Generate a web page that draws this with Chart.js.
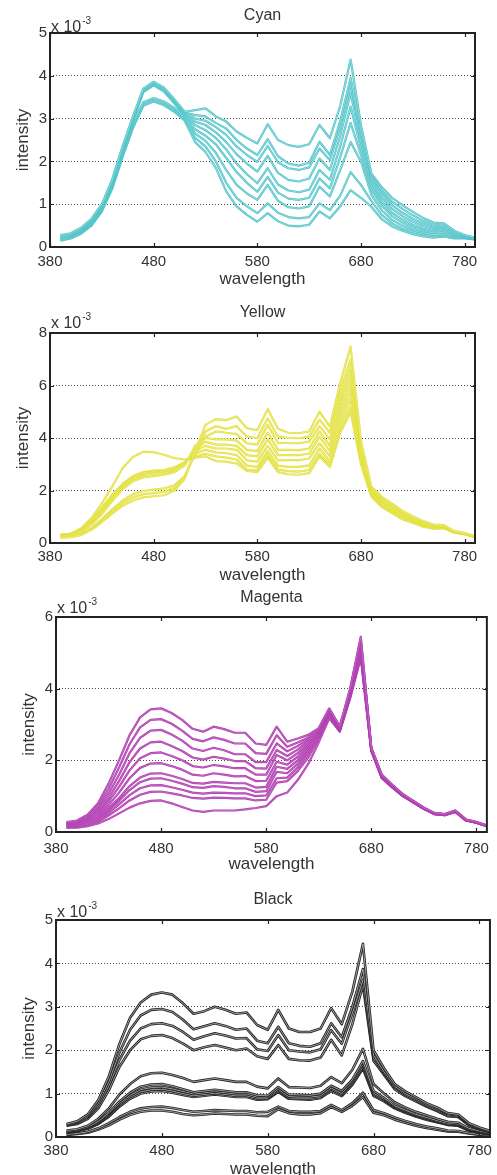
<!DOCTYPE html>
<html>
<head>
<meta charset="utf-8">
<title>Spectra</title>
<script src="https://cdn.jsdelivr.net/npm/chart.js@4.4.0/dist/chart.umd.min.js"></script>
<style>
  html, body { margin: 0; padding: 0; background: #fff; }
  .panel { position: absolute; left: 0; width: 497px; }
</style>
</head>
<body>
<div class="panel" style="top:0;height:290px"><canvas id="cyanChart"></canvas></div>
<div class="panel" style="top:290px;height:295px"><canvas id="yellowChart"></canvas></div>
<div class="panel" style="top:585px;height:300px"><canvas id="magentaChart"></canvas></div>
<div class="panel" style="top:885px;height:290px"><canvas id="blackChart"></canvas></div>
<script>
// sampled wavelengths (nm), one value per curve at each of them
const wavelengths = [390, 400, 410, 420, 430, 440, 450, 460, 470, 480,
                     490, 500, 510, 520, 530, 540, 550, 560, 570, 580,
                     590, 600, 610, 620, 630, 640, 650, 660, 670, 680,
                     690, 700, 710, 720, 730, 740, 750, 760, 770, 780, 790];
const xTicks = [380, 480, 580, 680, 780];
const cyanTicks = [0, 1, 2, 3, 4, 5];
const yellowTicks = [0, 2, 4, 6, 8];
const magentaTicks = [0, 2, 4, 6];
const blackTicks = [0, 1, 2, 3, 4, 5];

// intensities in units of 1e-3
const cyanCurves = [
  [0.28,0.32,0.45,0.66,1.00,1.58,2.35,3.05,3.70,3.86, 3.72,3.45,3.16,3.20,3.24,3.05,2.93,2.70,2.55,2.42, 2.87,2.50,2.38,2.34,2.40,2.85,2.54,3.30,4.38,2.85, 1.72,1.40,1.15,0.98,0.82,0.68,0.57,0.55,0.38,0.28,0.22],
  [0.26,0.30,0.43,0.64,0.98,1.55,2.32,3.02,3.68,3.84, 3.70,3.43,3.14,3.08,3.05,2.90,2.77,2.50,2.30,2.15, 2.52,2.12,1.95,1.90,1.97,2.46,2.15,2.95,3.95,2.70, 1.65,1.32,1.06,0.89,0.74,0.61,0.52,0.50,0.35,0.27,0.21],
  [0.24,0.28,0.41,0.62,0.96,1.53,2.30,3.00,3.66,3.82, 3.68,3.41,3.12,3.00,2.95,2.80,2.62,2.35,2.15,1.99, 2.36,1.98,1.84,1.80,1.86,2.30,2.03,2.80,3.80,2.60, 1.58,1.24,0.98,0.80,0.66,0.55,0.47,0.46,0.32,0.26,0.21],
  [0.22,0.27,0.39,0.60,0.94,1.50,2.27,2.97,3.64,3.80, 3.66,3.38,3.10,2.93,2.85,2.68,2.45,2.17,1.95,1.76, 2.13,1.73,1.57,1.53,1.60,2.07,1.80,2.60,3.60,2.45, 1.50,1.15,0.89,0.72,0.59,0.49,0.42,0.42,0.30,0.25,0.20],
  [0.21,0.26,0.38,0.58,0.92,1.48,2.24,2.94,3.62,3.78, 3.63,3.35,3.07,2.85,2.73,2.55,2.28,1.95,1.70,1.49, 1.84,1.46,1.32,1.28,1.34,1.80,1.57,2.35,3.28,2.30, 1.42,1.06,0.80,0.64,0.52,0.43,0.37,0.38,0.28,0.24,0.20],
  [0.20,0.25,0.37,0.56,0.90,1.45,2.20,2.90,3.38,3.48, 3.40,3.25,3.04,2.75,2.60,2.40,2.08,1.75,1.50,1.29, 1.64,1.27,1.13,1.10,1.15,1.60,1.37,2.10,2.90,2.15, 1.33,0.97,0.72,0.57,0.46,0.38,0.33,0.34,0.26,0.23,0.19],
  [0.18,0.23,0.35,0.54,0.88,1.42,2.17,2.86,3.36,3.45, 3.37,3.22,3.01,2.65,2.48,2.20,1.80,1.45,1.25,1.10, 1.45,1.08,0.93,0.90,0.95,1.41,1.18,1.80,2.45,2.00, 1.22,0.86,0.63,0.50,0.40,0.33,0.29,0.30,0.24,0.22,0.19],
  [0.16,0.21,0.33,0.52,0.85,1.39,2.13,2.82,3.33,3.42, 3.34,3.19,2.98,2.55,2.35,2.00,1.50,1.15,0.95,0.79, 1.02,0.80,0.70,0.67,0.70,1.02,0.86,1.20,1.75,1.45, 1.08,0.75,0.55,0.43,0.35,0.29,0.25,0.27,0.22,0.21,0.18],
  [0.15,0.20,0.31,0.50,0.83,1.36,2.10,2.78,3.30,3.40, 3.31,3.16,2.95,2.45,2.22,1.85,1.30,0.95,0.75,0.59, 0.79,0.60,0.50,0.48,0.52,0.83,0.67,0.95,1.33,1.15, 0.94,0.65,0.48,0.38,0.30,0.25,0.22,0.25,0.20,0.20,0.18]
];

const yellowCurves = [
  [0.20,0.22,0.30,0.50,0.80,1.12,1.42,1.62,1.74,1.78, 1.82,2.00,2.45,3.50,4.50,4.72,4.68,4.82,4.37,4.30, 5.10,4.35,4.20,4.18,4.25,5.00,4.43,6.10,7.48,3.90, 2.15,1.77,1.50,1.22,1.02,0.84,0.70,0.68,0.45,0.38,0.25],
  [0.21,0.23,0.32,0.53,0.85,1.20,1.52,1.74,1.86,1.90, 1.95,2.10,2.50,3.45,4.25,4.45,4.35,4.45,4.05,3.99, 4.75,4.05,4.00,3.99,4.05,4.70,4.20,5.80,7.00,3.75, 2.10,1.72,1.45,1.18,0.98,0.81,0.68,0.66,0.44,0.37,0.25],
  [0.22,0.24,0.34,0.56,0.90,1.28,1.62,1.86,1.98,2.03, 2.08,2.20,2.55,3.40,4.05,4.25,4.20,4.15,3.80,3.75, 4.50,3.82,3.80,3.80,3.86,4.45,3.95,5.50,6.70,3.60, 2.05,1.67,1.40,1.14,0.95,0.78,0.66,0.64,0.43,0.37,0.24],
  [0.25,0.28,0.42,0.70,1.10,1.60,2.05,2.35,2.50,2.55, 2.60,2.70,2.95,3.70,4.00,3.95,3.95,3.90,3.55,3.50, 4.20,3.55,3.55,3.54,3.60,4.25,3.70,5.25,6.40,3.50, 2.00,1.62,1.35,1.10,0.92,0.75,0.64,0.63,0.42,0.36,0.24],
  [0.26,0.29,0.44,0.74,1.16,1.66,2.10,2.40,2.58,2.64, 2.66,2.76,3.00,3.60,3.85,3.75,3.75,3.70,3.35,3.30, 3.95,3.35,3.35,3.35,3.40,4.05,3.50,5.00,6.10,3.40, 1.95,1.57,1.30,1.06,0.89,0.72,0.62,0.62,0.42,0.36,0.24],
  [0.27,0.30,0.46,0.78,1.22,1.72,2.15,2.45,2.62,2.68, 2.70,2.80,3.02,3.50,3.70,3.60,3.60,3.55,3.15,3.10, 3.70,3.15,3.16,3.16,3.22,3.80,3.30,4.75,5.80,3.30, 1.90,1.52,1.26,1.02,0.86,0.70,0.60,0.61,0.41,0.35,0.23],
  [0.28,0.31,0.48,0.82,1.28,1.78,2.20,2.50,2.66,2.72, 2.74,2.84,3.05,3.40,3.55,3.45,3.42,3.35,2.95,2.90, 3.50,2.95,2.90,2.90,2.96,3.60,3.10,4.50,5.50,3.20, 1.85,1.47,1.22,0.98,0.83,0.68,0.58,0.60,0.40,0.35,0.23],
  [0.30,0.33,0.50,0.86,1.34,1.84,2.25,2.55,2.70,2.76, 2.78,2.88,3.08,3.30,3.40,3.30,3.25,3.18,2.80,2.78, 3.35,2.80,2.74,2.72,2.78,3.40,2.97,4.30,5.20,3.10, 1.80,1.42,1.18,0.94,0.80,0.65,0.56,0.58,0.40,0.34,0.23],
  [0.32,0.36,0.55,0.95,1.50,2.15,2.85,3.28,3.48,3.46, 3.36,3.23,3.18,3.25,3.30,3.12,3.10,3.03,2.75,2.70, 3.25,2.70,2.62,2.60,2.66,3.30,2.90,4.20,5.00,3.00, 1.77,1.38,1.14,0.90,0.77,0.62,0.55,0.56,0.39,0.34,0.22]
];

const magentaCurves = [
  [0.28,0.32,0.48,0.80,1.35,2.00,2.70,3.20,3.42,3.45, 3.32,3.13,2.88,2.80,2.94,2.87,2.77,2.77,2.47,2.43, 2.94,2.52,2.61,2.71,2.90,3.45,2.95,4.02,5.45,2.36, 1.60,1.32,1.06,0.87,0.68,0.53,0.50,0.60,0.35,0.28,0.18],
  [0.26,0.30,0.44,0.72,1.20,1.80,2.45,2.92,3.13,3.15, 3.02,2.83,2.60,2.53,2.64,2.57,2.47,2.47,2.20,2.18, 2.70,2.38,2.50,2.64,2.87,3.43,2.93,4.00,5.40,2.35, 1.59,1.31,1.05,0.87,0.68,0.53,0.50,0.60,0.35,0.28,0.18],
  [0.25,0.28,0.40,0.65,1.07,1.60,2.20,2.63,2.83,2.85, 2.72,2.55,2.33,2.26,2.35,2.28,2.17,2.17,1.95,1.95, 2.47,2.25,2.40,2.58,2.84,3.41,2.91,3.97,5.34,2.34, 1.58,1.30,1.04,0.86,0.67,0.52,0.49,0.59,0.34,0.28,0.18],
  [0.23,0.26,0.37,0.58,0.95,1.42,1.95,2.33,2.50,2.52, 2.40,2.26,2.08,2.02,2.10,2.05,1.98,1.98,1.78,1.77, 2.29,2.12,2.30,2.52,2.81,3.39,2.90,3.94,5.28,2.33, 1.57,1.29,1.04,0.86,0.67,0.52,0.49,0.59,0.34,0.27,0.17],
  [0.22,0.24,0.34,0.52,0.85,1.26,1.72,2.06,2.20,2.22, 2.12,2.00,1.84,1.80,1.87,1.83,1.78,1.78,1.60,1.60, 2.15,2.00,2.20,2.46,2.78,3.37,2.88,3.91,5.22,2.32, 1.56,1.28,1.03,0.85,0.66,0.52,0.49,0.58,0.34,0.27,0.17],
  [0.20,0.22,0.31,0.46,0.75,1.10,1.50,1.79,1.91,1.92, 1.84,1.74,1.60,1.57,1.64,1.60,1.55,1.56,1.42,1.43, 1.96,1.88,2.10,2.40,2.75,3.35,2.87,3.88,5.16,2.31, 1.55,1.28,1.02,0.85,0.66,0.51,0.48,0.58,0.33,0.27,0.17],
  [0.19,0.20,0.28,0.41,0.66,0.95,1.28,1.52,1.63,1.64, 1.57,1.48,1.37,1.35,1.40,1.38,1.36,1.36,1.24,1.26, 1.82,1.76,2.00,2.33,2.72,3.32,2.85,3.85,5.10,2.30, 1.54,1.27,1.02,0.84,0.66,0.51,0.48,0.58,0.33,0.27,0.17],
  [0.17,0.18,0.25,0.37,0.60,0.87,1.17,1.39,1.49,1.50, 1.43,1.35,1.25,1.23,1.28,1.26,1.22,1.22,1.12,1.14, 1.68,1.64,1.90,2.26,2.68,3.29,2.84,3.82,5.04,2.29, 1.53,1.26,1.01,0.84,0.65,0.51,0.48,0.57,0.33,0.26,0.17],
  [0.15,0.16,0.22,0.33,0.53,0.77,1.03,1.22,1.30,1.31, 1.25,1.18,1.10,1.07,1.10,1.09,1.08,1.08,1.00,1.02, 1.50,1.52,1.80,2.18,2.64,3.26,2.83,3.80,4.98,2.28, 1.52,1.25,1.01,0.83,0.65,0.50,0.47,0.57,0.32,0.26,0.16],
  [0.13,0.14,0.19,0.29,0.46,0.66,0.88,1.04,1.12,1.13, 1.08,1.02,0.95,0.93,0.96,0.95,0.94,0.94,0.88,0.90, 1.38,1.42,1.70,2.08,2.60,3.22,2.81,3.77,4.92,2.27, 1.51,1.25,1.00,0.83,0.65,0.50,0.47,0.56,0.32,0.26,0.16],
  [0.12,0.12,0.16,0.24,0.36,0.52,0.68,0.80,0.87,0.88, 0.80,0.70,0.60,0.56,0.60,0.60,0.60,0.63,0.67,0.72, 1.00,1.10,1.45,1.90,2.50,3.17,2.80,3.74,4.86,2.26, 1.50,1.24,1.00,0.82,0.64,0.50,0.47,0.56,0.32,0.26,0.16]
];

const blackCurves = [
  [0.30,0.36,0.52,0.85,1.40,2.15,2.75,3.10,3.28,3.33, 3.28,3.08,2.84,2.90,3.00,2.93,2.84,2.87,2.58,2.47, 2.93,2.50,2.42,2.42,2.50,2.97,2.60,3.35,4.45,2.00, 1.58,1.22,1.05,0.92,0.78,0.68,0.55,0.52,0.32,0.22,0.14],
  [0.28,0.34,0.48,0.78,1.28,1.95,2.47,2.80,2.93,2.95, 2.88,2.70,2.48,2.55,2.62,2.56,2.47,2.50,2.22,2.16, 2.54,2.16,2.10,2.08,2.16,2.62,2.30,3.00,3.87,1.88, 1.50,1.17,1.00,0.88,0.75,0.65,0.53,0.50,0.30,0.20,0.13],
  [0.27,0.32,0.45,0.72,1.18,1.78,2.22,2.50,2.60,2.62, 2.56,2.42,2.24,2.32,2.39,2.34,2.27,2.28,2.02,1.98, 2.35,2.00,1.97,1.95,2.02,2.46,2.15,2.85,3.62,1.82, 1.47,1.14,0.97,0.85,0.72,0.62,0.50,0.48,0.28,0.19,0.12],
  [0.26,0.30,0.42,0.66,1.08,1.62,2.00,2.25,2.33,2.35, 2.28,2.15,2.00,2.07,2.12,2.06,2.00,2.04,1.86,1.80, 2.12,1.80,1.77,1.76,1.83,2.24,1.88,2.60,3.50,1.76, 1.43,1.10,0.94,0.82,0.70,0.60,0.48,0.46,0.27,0.18,0.11],
  [0.15,0.18,0.26,0.42,0.66,0.98,1.22,1.40,1.47,1.48, 1.43,1.36,1.27,1.31,1.35,1.31,1.27,1.27,1.16,1.12, 1.35,1.15,1.14,1.13,1.18,1.38,1.24,1.55,2.03,1.22, 1.00,0.80,0.68,0.58,0.50,0.42,0.35,0.33,0.20,0.14,0.09],
  [0.13,0.16,0.23,0.36,0.56,0.82,1.02,1.16,1.21,1.22, 1.17,1.10,1.03,1.06,1.09,1.06,1.03,1.03,0.96,0.95, 1.15,0.98,0.97,0.96,1.00,1.18,1.06,1.32,1.75,1.06, 0.90,0.72,0.62,0.52,0.45,0.38,0.32,0.30,0.18,0.13,0.08],
  [0.12,0.15,0.22,0.34,0.53,0.77,0.96,1.09,1.14,1.15, 1.11,1.05,0.99,1.02,1.05,1.02,0.99,0.99,0.92,0.92, 1.10,0.93,0.92,0.92,0.95,1.13,1.00,1.28,1.68,1.01, 0.87,0.70,0.60,0.50,0.43,0.36,0.30,0.28,0.17,0.12,0.07],
  [0.11,0.14,0.21,0.32,0.50,0.74,0.92,1.04,1.09,1.10, 1.06,1.00,0.95,0.98,1.01,0.98,0.95,0.95,0.89,0.89, 1.07,0.90,0.89,0.89,0.92,1.10,0.97,1.24,1.62,0.98, 0.85,0.68,0.58,0.49,0.42,0.35,0.29,0.27,0.16,0.11,0.07],
  [0.10,0.13,0.19,0.30,0.47,0.70,0.88,1.00,1.05,1.06, 1.02,0.97,0.92,0.95,0.98,0.95,0.92,0.92,0.86,0.87, 1.04,0.88,0.87,0.86,0.90,1.06,0.94,1.20,1.58,0.95, 0.82,0.66,0.56,0.47,0.40,0.34,0.28,0.26,0.15,0.10,0.06],
  [0.06,0.08,0.12,0.20,0.32,0.46,0.58,0.66,0.69,0.70, 0.67,0.62,0.58,0.60,0.62,0.61,0.60,0.60,0.57,0.58, 0.70,0.60,0.58,0.58,0.60,0.74,0.62,0.78,1.02,0.62, 0.55,0.45,0.37,0.30,0.24,0.20,0.15,0.14,0.09,0.06,0.04],
  [0.05,0.07,0.10,0.17,0.27,0.40,0.51,0.58,0.61,0.61, 0.58,0.53,0.50,0.52,0.54,0.53,0.52,0.52,0.49,0.48, 0.64,0.55,0.52,0.52,0.55,0.69,0.58,0.72,0.92,0.56, 0.50,0.40,0.33,0.26,0.21,0.17,0.13,0.12,0.08,0.05,0.03]
];

const FONT = "'Liberation Sans', Arial, Helvetica, sans-serif";
const TEXT_COLOR = '#333';

// thin pale stroke over each curve right after it is drawn, so every line reads as a soft double edge
const lineCore = {
  id: 'lineCore',
  afterDatasetDraw(chart, args, opts) {
    if (!opts.color) return;
    const pts = args.meta.data;
    const a = chart.chartArea;
    const ctx = chart.ctx;
    ctx.save();
    ctx.beginPath();
    ctx.rect(a.left, a.top, a.right - a.left, a.bottom - a.top);
    ctx.clip();
    ctx.beginPath();
    pts.forEach((p, i) => (i ? ctx.lineTo(p.x, p.y) : ctx.moveTo(p.x, p.y)));
    ctx.strokeStyle = opts.color;
    ctx.lineWidth = opts.width;
    ctx.lineJoin = 'round';
    ctx.stroke();
    ctx.restore();
  }
};

// MATLAB-like frame: full box, inward ticks on all sides, title, axis labels, exponent
const matlabAxes = {
  id: 'matlabAxes',
  afterDraw(chart, args, opts) {
    const { ctx, chartArea: a, scales: { x, y } } = chart;
    const midX = (a.left + a.right) / 2;
    const midY = (a.top + a.bottom) / 2;
    ctx.save();

    ctx.strokeStyle = '#222';
    ctx.lineWidth = 1.2;
    ctx.beginPath();
    x.ticks.forEach(t => {
      const px = Math.round(x.getPixelForValue(t.value)) + 0.5;
      ctx.moveTo(px, a.bottom); ctx.lineTo(px, a.bottom - 4);
      ctx.moveTo(px, a.top); ctx.lineTo(px, a.top + 4);
    });
    y.ticks.forEach(t => {
      const py = Math.round(y.getPixelForValue(t.value)) + 0.5;
      ctx.moveTo(a.left, py); ctx.lineTo(a.left + 4, py);
      ctx.moveTo(a.right, py); ctx.lineTo(a.right - 4, py);
    });
    ctx.stroke();

    ctx.lineWidth = 2;
    ctx.strokeRect(a.left, a.top, a.right - a.left, a.bottom - a.top);

    ctx.fillStyle = TEXT_COLOR;
    ctx.textAlign = 'center';
    ctx.textBaseline = 'middle';
    ctx.font = `16px ${FONT}`;
    ctx.fillText(opts.title, midX, a.top - opts.titleGap);
    ctx.font = `17px ${FONT}`;
    ctx.fillText('wavelength', midX, a.bottom + 32);

    ctx.save();
    ctx.translate(a.left - 27, midY);
    ctx.rotate(-Math.PI / 2);
    ctx.fillText('intensity', 0, 0);
    ctx.restore();

    // "x 10^-3" multiplier above the y axis
    ctx.textAlign = 'left';
    ctx.textBaseline = 'alphabetic';
    ctx.font = `16px ${FONT}`;
    const base = a.top - opts.expGap;
    ctx.fillText('x 10', a.left + 1, base);
    const w = ctx.measureText('x 10').width;
    ctx.font = `10px ${FONT}`;
    ctx.fillText('-3', a.left + 2 + w, base - 8);
    ctx.restore();
  }
};

function renderPanel(cfg) {
  const datasets = cfg.curves.map(curve => ({
    data: wavelengths.map((w, i) => ({ x: w, y: curve[i] })),
    borderColor: cfg.color,
    borderWidth: cfg.lineWidth,
    borderJoinStyle: 'round',
    pointRadius: 0,
    fill: false,
    tension: 0
  }));

  const tickFont = { family: FONT, size: 15 };
  const yMax = cfg.yTicks[cfg.yTicks.length - 1];

  return new Chart(document.getElementById(cfg.canvas), {
    type: 'line',
    data: { datasets },
    plugins: [lineCore, matlabAxes],
    options: {
      responsive: true,
      maintainAspectRatio: false,
      animation: false,
      events: [],
      layout: { padding: { left: 0, top: cfg.top, right: cfg.right, bottom: 0 } },
      plugins: {
        legend: { display: false },
        tooltip: { enabled: false },
        lineCore: { color: cfg.core, width: cfg.coreWidth },
        matlabAxes: { title: cfg.title, titleGap: cfg.titleGap, expGap: cfg.expGap }
      },
      scales: {
        x: {
          type: 'linear',
          min: 380,
          max: 790,
          afterBuildTicks: scale => { scale.ticks = xTicks.map(v => ({ value: v })); },
          afterFit: scale => { scale.height = cfg.bottom; },
          grid: { display: false, drawTicks: false },
          border: { display: false },
          ticks: { font: tickFont, color: TEXT_COLOR, padding: cfg.xPad, maxRotation: 0 }
        },
        y: {
          min: 0,
          max: yMax,
          afterBuildTicks: scale => { scale.ticks = cfg.yTicks.map(v => ({ value: v })); },
          afterFit: scale => { scale.width = cfg.left; },
          grid: { color: '#444', lineWidth: 1, drawTicks: false },
          border: { display: false, dash: [1, 2] },
          ticks: { font: tickFont, color: TEXT_COLOR, padding: 3 }
        }
      }
    }
  });
}

const panels = [
  { canvas: 'cyanChart', title: 'Cyan', color: '#4fc3c8', core: '#a9e3e5', coreWidth: 0.7, lineWidth: 2.2,
    curves: cyanCurves, yTicks: cyanTicks,
    left: 50, right: 22, top: 33, bottom: 43, titleGap: 17, expGap: 1, xPad: 6 },
  { canvas: 'yellowChart', title: 'Yellow', color: '#e2e03a', core: '#f0ef96', coreWidth: 0.7, lineWidth: 2.2,
    curves: yellowCurves, yTicks: yellowTicks,
    left: 50, right: 22, top: 43, bottom: 42, titleGap: 20, expGap: 5, xPad: 5 },
  { canvas: 'magentaChart', title: 'Magenta', color: '#b03fb0', core: '#cf7fcf', coreWidth: 0.6, lineWidth: 2.2,
    curves: magentaCurves, yTicks: magentaTicks,
    left: 56, right: 5, top: 32, bottom: 53, titleGap: 19, expGap: 4, xPad: 8 },
  { canvas: 'blackChart', title: 'Black', color: '#222', core: '#bbbbbb', coreWidth: 0.8, lineWidth: 2.6,
    curves: blackCurves, yTicks: blackTicks,
    left: 56, right: 5, top: 35, bottom: 38, titleGap: 20, expGap: 3, xPad: 5 }
];

panels.forEach(renderPanel);
</script>
</body>
</html>
